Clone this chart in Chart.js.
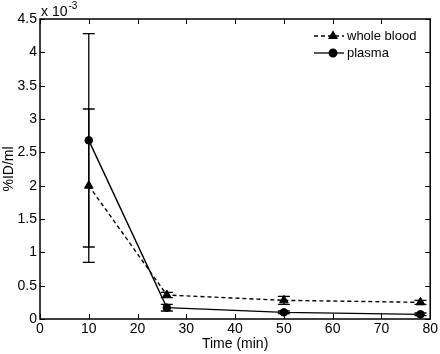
<!DOCTYPE html>
<html><head><meta charset="utf-8">
<script src="https://cdn.jsdelivr.net/npm/chart.js@4/dist/chart.umd.min.js"></script>
<style>html,body{margin:0;padding:0;background:#fff}</style>
</head><body>
<canvas id="c" width="440" height="354"></canvas>
<script>
const times = [10, 26, 50, 78];
const wholeBlood = [2.0, 0.36, 0.28, 0.25];
const wholeBloodErr = [1.15, 0.04, 0.06, 0.03];
const plasma = [2.68, 0.17, 0.10, 0.07];
const plasmaErr = [1.6, 0.05, 0.02, 0.02];
const xTicks = [0, 10, 20, 30, 40, 50, 60, 70, 80];
const yTicks = [0, 0.5, 1, 1.5, 2, 2.5, 3, 3.5, 4, 4.5];
const seriesNames = ['whole blood', 'plasma'];
const xTitle = 'Time (min)';
const yTitle = '%ID/ml';
const exponentBase = 'x 10';
const exponentPower = '-3';

const FONT = 'Liberation Sans, Arial, sans-serif';

const errorBars = {
  id: 'errorBars',
  afterDatasetsDraw(chart) {
    const ctx = chart.ctx, xs = chart.scales.x, ys = chart.scales.y;
    ctx.save();
    ctx.strokeStyle = '#000';
    ctx.lineWidth = 1.3;
    chart.data.datasets.forEach(ds => {
      ds.data.forEach((p, i) => {
        const e = ds.err[i];
        const px = xs.getPixelForValue(p.x);
        const y1 = ys.getPixelForValue(p.y - e), y2 = ys.getPixelForValue(p.y + e);
        ctx.beginPath();
        ctx.moveTo(px, y1); ctx.lineTo(px, y2);
        ctx.moveTo(px - 6, y1); ctx.lineTo(px + 6, y1);
        ctx.moveTo(px - 6, y2); ctx.lineTo(px + 6, y2);
        ctx.stroke();
      });
    });
    ctx.restore();
  }
};

const frame = {
  id: 'frame',
  afterDraw(chart) {
    const ctx = chart.ctx, a = chart.chartArea, xs = chart.scales.x, ys = chart.scales.y;
    ctx.save();
    ctx.strokeStyle = '#000';
    ctx.lineWidth = 1.5;
    ctx.strokeRect(a.left, a.top, a.right - a.left, a.bottom - a.top);
    ctx.lineWidth = 1;
    ctx.beginPath();
    xTicks.forEach(v => {
      const px = Math.round(xs.getPixelForValue(v)) + 0.5;
      ctx.moveTo(px, a.bottom); ctx.lineTo(px, a.bottom - 5);
      ctx.moveTo(px, a.top); ctx.lineTo(px, a.top + 5);
    });
    yTicks.forEach(v => {
      const py = Math.round(ys.getPixelForValue(v)) + 0.5;
      ctx.moveTo(a.left, py); ctx.lineTo(a.left + 5, py);
      ctx.moveTo(a.right, py); ctx.lineTo(a.right - 5, py);
    });
    ctx.stroke();

    // exponent label
    ctx.fillStyle = '#000';
    ctx.textBaseline = 'alphabetic';
    ctx.textAlign = 'left';
    ctx.font = '14px ' + FONT;
    ctx.fillText(exponentBase, a.left + 1, a.top - 3);
    const w = ctx.measureText(exponentBase).width;
    ctx.font = '10px ' + FONT;
    ctx.fillText(exponentPower, a.left + 1 + w + 1, a.top - 10);

    // legend
    const lx1 = 314, lx2 = 344, mx = 333;
    const rows = [{y: 36, dash: [4, 3], style: 'triangle', r: 4.5}, {y: 53, dash: [], style: 'circle', r: 3.8}];
    rows.forEach((r, i) => {
      ctx.setLineDash(r.dash);
      ctx.lineWidth = 1.3;
      ctx.beginPath(); ctx.moveTo(lx1, r.y); ctx.lineTo(lx2, r.y); ctx.stroke();
      ctx.setLineDash([]);
      Chart.helpers.drawPoint(ctx, {pointStyle: r.style, radius: r.r, rotation: 0, borderWidth: 1}, mx, r.y);
      ctx.fill();
      ctx.font = '13px ' + FONT;
      ctx.textBaseline = 'middle';
      ctx.fillText(seriesNames[i], 347, r.y);
    });
    ctx.restore();
  }
};

const mk = (ys) => times.map((t, i) => ({x: t, y: ys[i]}));

new Chart(document.getElementById('c'), {
  type: 'line',
  data: {
    datasets: [
      {label: seriesNames[0], data: mk(wholeBlood), err: wholeBloodErr,
       borderColor: '#000', backgroundColor: '#000', borderWidth: 1.4, borderDash: [4, 3],
       pointStyle: 'triangle', pointRadius: 5, pointBorderWidth: 1, tension: 0},
      {label: seriesNames[1], data: mk(plasma), err: plasmaErr,
       borderColor: '#000', backgroundColor: '#000', borderWidth: 1.4,
       pointStyle: 'circle', pointRadius: 3.8, pointBorderWidth: 1, tension: 0}
    ]
  },
  options: {
    responsive: false,
    devicePixelRatio: 1,
    animation: false,
    layout: {padding: {top: 19, right: 8, left: 0, bottom: 0}},
    plugins: {legend: {display: false}, tooltip: {enabled: false}},
    scales: {
      x: {
        type: 'linear', min: 0, max: 80,
        afterBuildTicks: s => { s.ticks = xTicks.map(v => ({value: v})); },
        afterFit: s => { s.height = 35; },
        grid: {display: false, drawTicks: false},
        border: {display: false},
        ticks: {color: '#000', font: {family: FONT, size: 14}, padding: 2, maxRotation: 0, autoSkip: false},
        title: {display: true, text: xTitle, color: '#000', font: {family: FONT, size: 14}, padding: {top: 0, bottom: 1}}
      },
      y: {
        type: 'linear', min: 0, max: 4.5,
        afterBuildTicks: s => { s.ticks = yTicks.map(v => ({value: v})); },
        afterFit: s => { s.width = 40; },
        grid: {display: false, drawTicks: false},
        border: {display: false},
        ticks: {color: '#000', font: {family: FONT, size: 14}, padding: 3, autoSkip: false, callback: v => String(v)},
        title: {display: true, text: yTitle, color: '#000', font: {family: FONT, size: 14}, padding: {top: 1, bottom: 0}}
      }
    }
  },
  plugins: [errorBars, frame]
});
</script>
</body></html>
